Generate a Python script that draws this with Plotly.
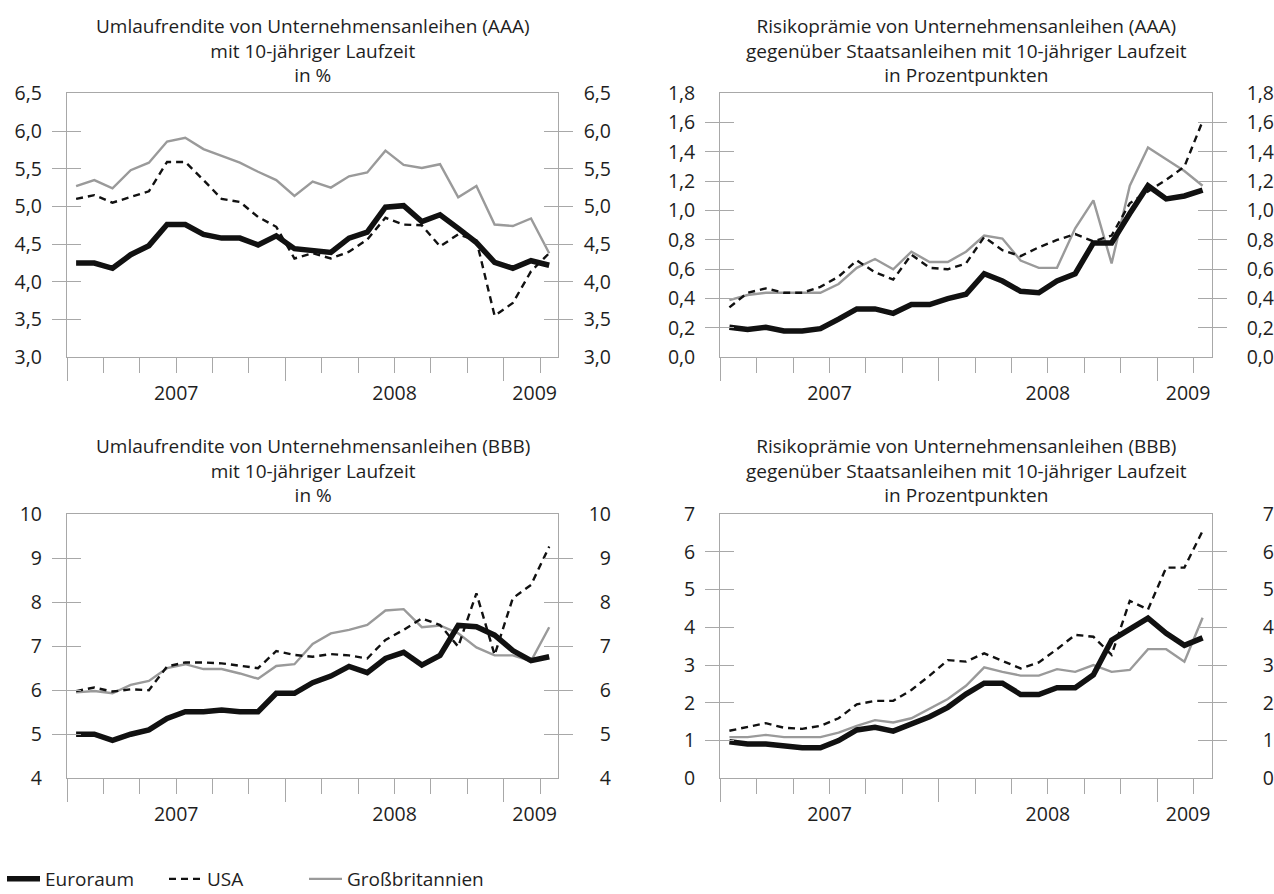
import plotly.graph_objects as go

# Monthly observations, January 2007 to March 2009 (centred within each month)
monat = [i + 0.5 for i in range(27)]

# Umlaufrendite AAA, in %
aaa_rendite_euro = [4.25, 4.25, 4.18, 4.36, 4.48, 4.76, 4.76, 4.63, 4.58, 4.58, 4.49, 4.61, 4.44, 4.41,
                    4.39, 4.58, 4.66, 4.99, 5.01, 4.80, 4.89, 4.71, 4.52, 4.26, 4.18, 4.28, 4.22]
aaa_rendite_usa = [5.10, 5.15, 5.05, 5.12, 5.20, 5.59, 5.59, 5.35, 5.10, 5.06, 4.86, 4.73, 4.31, 4.38,
                   4.31, 4.40, 4.56, 4.85, 4.76, 4.75, 4.47, 4.63, 4.55, 3.55, 3.72, 4.14, 4.38]
aaa_rendite_gb = [5.27, 5.35, 5.24, 5.48, 5.58, 5.86, 5.91, 5.76, 5.67, 5.58, 5.46, 5.35, 5.14, 5.33,
                  5.25, 5.40, 5.45, 5.74, 5.55, 5.51, 5.56, 5.12, 5.27, 4.76, 4.74, 4.84, 4.38]

# Risikoprämie AAA, in Prozentpunkten
aaa_praemie_euro = [0.205, 0.19, 0.205, 0.18, 0.18, 0.195, 0.26, 0.33, 0.33, 0.30, 0.36, 0.36, 0.40, 0.43,
                    0.57, 0.52, 0.45, 0.44, 0.52, 0.57, 0.78, 0.78, 0.98, 1.17, 1.08, 1.10, 1.14]
aaa_praemie_usa = [0.34, 0.44, 0.47, 0.44, 0.44, 0.48, 0.55, 0.66, 0.58, 0.53, 0.70, 0.61, 0.60, 0.64,
                   0.82, 0.73, 0.69, 0.75, 0.80, 0.84, 0.79, 0.83, 1.05, 1.13, 1.21, 1.30, 1.61]
aaa_praemie_gb = [0.39, 0.425, 0.44, 0.44, 0.44, 0.44, 0.50, 0.61, 0.67, 0.60, 0.72, 0.65, 0.65, 0.72,
                  0.83, 0.81, 0.66, 0.61, 0.61, 0.88, 1.07, 0.64, 1.17, 1.43, 1.35, 1.27, 1.17]

# Umlaufrendite BBB, in %
bbb_rendite_euro = [5.00, 5.00, 4.86, 5.00, 5.10, 5.36, 5.51, 5.51, 5.55, 5.51, 5.51, 5.93, 5.93, 6.17,
                    6.32, 6.54, 6.40, 6.72, 6.86, 6.57, 6.79, 7.47, 7.44, 7.25, 6.90, 6.67, 6.76]
bbb_rendite_usa = [5.98, 6.06, 5.97, 6.02, 6.00, 6.54, 6.63, 6.63, 6.61, 6.56, 6.50, 6.89, 6.80, 6.76,
                   6.82, 6.79, 6.72, 7.14, 7.37, 7.63, 7.48, 6.99, 8.20, 6.80, 8.09, 8.39, 9.26]
bbb_rendite_gb = [5.95, 5.98, 5.93, 6.12, 6.21, 6.50, 6.59, 6.48, 6.48, 6.38, 6.26, 6.55, 6.59, 7.05,
                  7.29, 7.37, 7.48, 7.81, 7.84, 7.43, 7.47, 7.29, 6.97, 6.79, 6.79, 6.66, 7.43]

# Risikoprämie BBB, in Prozentpunkten
bbb_praemie_euro = [0.97, 0.91, 0.91, 0.86, 0.81, 0.81, 1.00, 1.28, 1.35, 1.25, 1.44, 1.63, 1.88, 2.23,
                    2.52, 2.52, 2.22, 2.22, 2.40, 2.40, 2.74, 3.66, 3.95, 4.24, 3.84, 3.52, 3.72]
bbb_praemie_usa = [1.26, 1.37, 1.46, 1.34, 1.31, 1.39, 1.59, 1.96, 2.05, 2.05, 2.34, 2.72, 3.13, 3.09,
                   3.31, 3.11, 2.91, 3.07, 3.42, 3.80, 3.75, 3.27, 4.70, 4.47, 5.58, 5.58, 6.55]
bbb_praemie_gb = [1.09, 1.09, 1.15, 1.09, 1.09, 1.09, 1.21, 1.39, 1.54, 1.48, 1.59, 1.84, 2.10, 2.45,
                  2.94, 2.82, 2.72, 2.72, 2.89, 2.82, 3.00, 2.82, 2.87, 3.42, 3.42, 3.09, 4.25]

jahre = ["2007", "2008", "2009"]
jahr_pos = [6, 18, 25.7]
laender = ["Euroraum", "USA", "Großbritannien"]

titel_aaa_rendite = ["Umlaufrendite von Unternehmensanleihen (AAA)", "mit 10-jähriger Laufzeit", "in %"]
titel_aaa_praemie = ["Risikoprämie von Unternehmensanleihen (AAA)",
                     "gegenüber Staatsanleihen mit 10-jähriger Laufzeit", "in Prozentpunkten"]
titel_bbb_rendite = ["Umlaufrendite von Unternehmensanleihen (BBB)", "mit 10-jähriger Laufzeit", "in %"]
titel_bbb_praemie = ["Risikoprämie von Unternehmensanleihen (BBB)",
                     "gegenüber Staatsanleihen mit 10-jähriger Laufzeit", "in Prozentpunkten"]

W, H = 1274, 894
FONT = "Open Sans"
TEXT = "#1e1e1e"
FRAME = "#a8a8a8"
GREY_LINE = "#9a9a9a"


def px_x(v):
    return v / W


def px_y(v):
    return 1 - v / H


styles = [
    dict(color="#111111", width=5.5, dash="solid"),
    dict(color="#111111", width=2.4, dash="7px,5px"),
    dict(color=GREY_LINE, width=2.4, dash="solid"),
]

panels = [
    dict(data=(aaa_rendite_euro, aaa_rendite_usa, aaa_rendite_gb), titel=titel_aaa_rendite,
         left=67.0, right=558.3, top=93.3, bottom=357.3, rng=[3.0, 6.5],
         ticks=[3.0 + 0.5 * k for k in range(8)], fmt=".1f", label_end=608),
    dict(data=(aaa_praemie_euro, aaa_praemie_usa, aaa_praemie_gb), titel=titel_aaa_praemie,
         left=720.3, right=1211.7, top=93.3, bottom=357.3, rng=[0.0, 1.8],
         ticks=[0.2 * k for k in range(10)], fmt=".1f", label_end=1271),
    dict(data=(bbb_rendite_euro, bbb_rendite_usa, bbb_rendite_gb), titel=titel_bbb_rendite,
         left=67.0, right=558.3, top=514.0, bottom=778.3, rng=[4, 10],
         ticks=list(range(4, 11)), fmt="d", label_end=608),
    dict(data=(bbb_praemie_euro, bbb_praemie_usa, bbb_praemie_gb), titel=titel_bbb_praemie,
         left=720.3, right=1211.7, top=514.0, bottom=778.3, rng=[0, 7],
         ticks=list(range(0, 8)), fmt="d", label_end=1271),
]

fig = go.Figure()
layout = dict(
    width=W, height=H, margin=dict(l=0, r=0, t=0, b=0, autoexpand=False),
    paper_bgcolor="white", plot_bgcolor="white",
    separators=",.",
    font=dict(family=FONT, size=19, color=TEXT),
    annotations=[],
)
tickfont = dict(family=FONT, size=19.5, color=TEXT)

for k, p in enumerate(panels, start=1):
    xs, ys = f"x{k}", f"y{k}"
    xs_jahr, ys_rechts = f"x{k + 4}", f"y{k + 4}"
    xdom = [px_x(p["left"]), px_x(p["right"])]
    ydom = [px_y(p["bottom"]), px_y(p["top"])]

    # Großbritannien first, then USA, Euroraum on top
    for j in (2, 1, 0):
        fig.add_trace(go.Scatter(
            x=monat, y=p["data"][j], mode="lines", name=laender[j],
            line=styles[j], xaxis=xs, yaxis=ys,
            showlegend=(k == 1), legend=["legend", "legend2", "legend3"][j],
            hoverinfo="skip",
        ))
    # empty traces so that the year-label axis and the right-hand value axis are drawn
    fig.add_trace(go.Scatter(x=[None], y=[None], xaxis=xs_jahr, yaxis=ys,
                             showlegend=False, hoverinfo="skip"))
    fig.add_trace(go.Scatter(x=[None], y=[None], xaxis=xs, yaxis=ys_rechts,
                             showlegend=False, hoverinfo="skip"))

    layout[f"xaxis{k}"] = dict(
        domain=xdom, anchor=ys, range=[0, 27], tickmode="array", tickvals=[0, 12, 24],
        ticks="outside", ticklen=23, tickwidth=1.3, tickcolor=FRAME, showticklabels=False,
        showline=True, linecolor=FRAME, linewidth=1.3, mirror=True,
        showgrid=False, zeroline=False, fixedrange=True,
        minor=dict(tickmode="array", tickvals=list(range(2, 27, 2)), ticks="outside",
                   ticklen=15, tickwidth=1.3, tickcolor=FRAME, showgrid=False),
    )
    layout[f"xaxis{k + 4}"] = dict(
        overlaying=xs, anchor=ys, side="bottom", range=[0, 27], tickmode="array",
        tickvals=jahr_pos, ticktext=jahre, ticks="", showline=False, showgrid=False,
        zeroline=False, tickfont=tickfont, ticklabelstandoff=22, fixedrange=True,
    )
    layout[f"yaxis{k}"] = dict(
        domain=ydom, anchor=xs, range=p["rng"], tickmode="array", tickvals=p["ticks"],
        tickformat=p["fmt"], ticks="inside", ticklen=14, tickwidth=1.3, tickcolor=FRAME,
        showline=True, linecolor=FRAME, linewidth=1.3, mirror="allticks",
        showgrid=False, zeroline=False, tickfont=tickfont, ticklabelstandoff=20, fixedrange=True,
    )
    layout[f"yaxis{k + 4}"] = dict(
        overlaying=ys, anchor="free", position=px_x(p["label_end"] + 3), side="left",
        range=p["rng"], tickmode="array", tickvals=p["ticks"], tickformat=p["fmt"],
        ticks="", showline=False, showgrid=False, zeroline=False, tickfont=tickfont,
        fixedrange=True,
    )

    # three-line panel heading, centred over the plot area
    layout["annotations"].append(dict(
        text="<br>".join(p["titel"]), xref="paper", yref="paper",
        x=px_x((p["left"] + p["right"]) / 2), y=px_y(p["top"] - 43),
        xanchor="center", yanchor="middle", align="center", showarrow=False,
        font=dict(family=FONT, size=19, color=TEXT),
    ))

legend_common = dict(orientation="h", yanchor="middle", xanchor="left", y=px_y(879),
                     font=dict(family=FONT, size=19, color=TEXT), bgcolor="rgba(0,0,0,0)",
                     itemwidth=33, borderwidth=0)
layout["legend"] = dict(legend_common, x=px_x(2))
layout["legend2"] = dict(legend_common, x=px_x(164))
layout["legend3"] = dict(legend_common, x=px_x(304))

fig.update_layout(**layout)
fig.write_html("out.html")
